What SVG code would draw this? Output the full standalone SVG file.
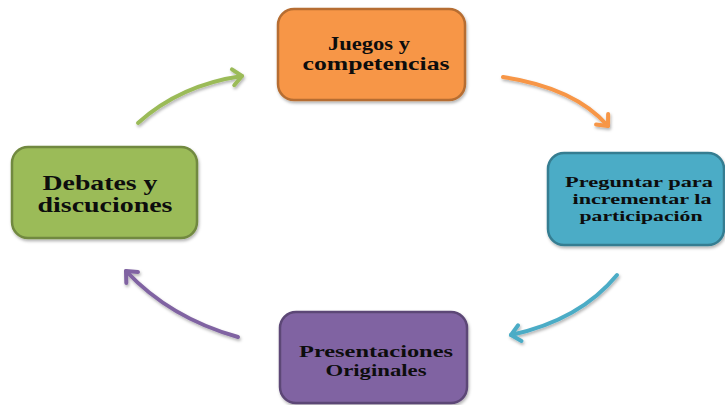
<svg xmlns="http://www.w3.org/2000/svg" width="725" height="405" viewBox="0 0 725 405">
<style>
.box{stroke-width:2.5}
.lbl{font-family:"Liberation Serif","Times New Roman",serif;font-weight:bold;fill:#0d0d0d;text-anchor:middle}
.arr{fill:none;stroke-width:4;stroke-linecap:round}
</style>
<defs>
<filter id="sh" x="-10%" y="-10%" width="125%" height="130%">
<feDropShadow dx="1" dy="2" stdDeviation="1.5" flood-color="#000" flood-opacity="0.3"/>
</filter>
<marker id="mo" markerUnits="userSpaceOnUse" markerWidth="24" markerHeight="24" refX="12" refY="12" orient="auto" viewBox="0 0 24 24"><path d="M3,4 L12,12 L3,20" fill="none" stroke="#F79646" stroke-width="4" stroke-linecap="round" stroke-linejoin="round"/></marker>
<marker id="mt" markerUnits="userSpaceOnUse" markerWidth="24" markerHeight="24" refX="12" refY="12" orient="auto" viewBox="0 0 24 24"><path d="M3,4 L12,12 L3,20" fill="none" stroke="#4BACC6" stroke-width="4" stroke-linecap="round" stroke-linejoin="round"/></marker>
<marker id="mp" markerUnits="userSpaceOnUse" markerWidth="24" markerHeight="24" refX="12" refY="12" orient="auto" viewBox="0 0 24 24"><path d="M3,4 L12,12 L3,20" fill="none" stroke="#8064A2" stroke-width="4" stroke-linecap="round" stroke-linejoin="round"/></marker>
<marker id="mg" markerUnits="userSpaceOnUse" markerWidth="24" markerHeight="24" refX="12" refY="12" orient="auto" viewBox="0 0 24 24"><path d="M3,4 L12,12 L3,20" fill="none" stroke="#9BBB59" stroke-width="4" stroke-linecap="round" stroke-linejoin="round"/></marker>
</defs>
<rect width="725" height="405" fill="#ffffff"/>
<g id="connectors" filter="url(#sh)">
<path class="arr" stroke="#F79646" d="M503,77 Q575,88 608,126" marker-end="url(#mo)"/>
<path class="arr" stroke="#4BACC6" d="M617,275 Q580,320 511,335" marker-end="url(#mt)"/>
<path class="arr" stroke="#8064A2" d="M238,337 Q170,318 126,271" marker-end="url(#mp)"/>
<path class="arr" stroke="#9BBB59" d="M138,123 Q180,85 242,76" marker-end="url(#mg)"/>
</g>
<g id="node-juegos">
<rect class="box" x="278" y="9" width="187" height="91" rx="16" fill="#F79646" stroke="#B66D31" filter="url(#sh)"/>
<text class="lbl" font-size="19" x="369" y="50" textLength="82" lengthAdjust="spacingAndGlyphs">Juegos y</text>
<text class="lbl" font-size="19" x="376" y="70" textLength="147" lengthAdjust="spacingAndGlyphs">competencias</text>
</g>
<g id="node-preguntar">
<rect class="box" x="548" y="153" width="176" height="92" rx="16" fill="#4BACC6" stroke="#357D91" filter="url(#sh)"/>
<text class="lbl" font-size="15.5" x="639" y="187" textLength="148" lengthAdjust="spacingAndGlyphs">Preguntar para</text>
<text class="lbl" font-size="15.5" x="642" y="204" textLength="139" lengthAdjust="spacingAndGlyphs">incrementar la</text>
<text class="lbl" font-size="15.5" x="641" y="221" textLength="123" lengthAdjust="spacingAndGlyphs">participación</text>
</g>
<g id="node-presentaciones">
<rect class="box" x="280" y="312" width="187" height="91" rx="16" fill="#8064A2" stroke="#5C4776" filter="url(#sh)"/>
<text class="lbl" font-size="17.5" x="376" y="357" textLength="154" lengthAdjust="spacingAndGlyphs">Presentaciones</text>
<text class="lbl" font-size="17.5" x="376" y="376" textLength="101" lengthAdjust="spacingAndGlyphs">Originales</text>
</g>
<g id="node-debates">
<rect class="box" x="12" y="147" width="185" height="91" rx="16" fill="#9BBB59" stroke="#71893F" filter="url(#sh)"/>
<text class="lbl" font-size="21.5" x="100" y="190" textLength="115" lengthAdjust="spacingAndGlyphs">Debates y</text>
<text class="lbl" font-size="21.5" x="105" y="212" textLength="135" lengthAdjust="spacingAndGlyphs">discuciones</text>
</g>
</svg>
